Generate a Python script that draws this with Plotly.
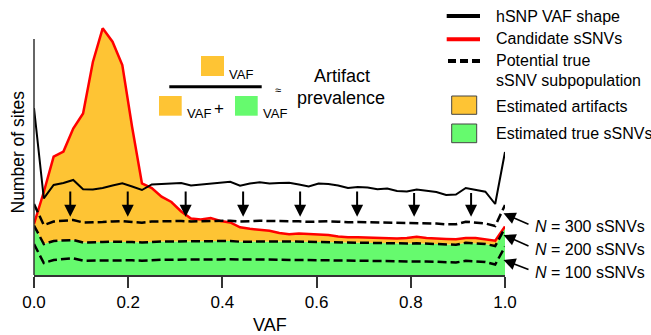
import plotly.graph_objects as go

# ---------------- data ----------------
vaf = [0.0, 0.0208, 0.0417, 0.0625, 0.0833, 0.1042, 0.125, 0.1458, 0.1667, 0.1875,
       0.2083, 0.2292, 0.25, 0.2708, 0.2917, 0.3125, 0.3333, 0.3542, 0.375, 0.3958,
       0.4167, 0.4375, 0.4583, 0.4792, 0.5, 0.5208, 0.5417, 0.5625, 0.5833, 0.6042,
       0.625, 0.6458, 0.6667, 0.6875, 0.7083, 0.7292, 0.75, 0.7708, 0.7917, 0.8125,
       0.8333, 0.8542, 0.875, 0.8958, 0.9167, 0.9375, 0.9583, 0.9792, 1.0]

hsnp_shape = [167, 76.7, 90, 92, 95, 85.7, 85.5, 87, 89.5, 91.7,
              88.5, 85, 90.5, 91, 91.5, 92, 89.5, 90.5, 91.5, 92.5,
              93.3, 89.3, 91.5, 92.7, 91.5, 92, 92.3, 90.5, 88.5, 91.5,
              91, 89.5, 87, 88, 87.5, 85.7, 86.5, 84, 83.5, 85.5,
              84.5, 83, 80, 80.5, 87, 85.5, 83.3, 71, 123]

candidate = [51, 83, 118.3, 123.5, 146.5, 161.5, 213, 246.7, 233.3, 210,
             148, 91.5, 87, 78.3, 73, 63.5, 56.5, 55.5, 57, 54,
             52.5, 47.7, 46.2, 45, 44.3, 42, 40.7, 41.5, 41, 40.7,
             40, 38.5, 37.7, 37.7, 37.3, 37, 36.7, 36.5, 37, 38.3,
             37, 36.3, 36, 35.7, 37, 37, 36, 34.3, 48.5]

true_n300 = [71, 50, 53.5, 54.5, 55, 52.5, 52.5, 53, 53.5, 54,
             53, 52.3, 53.5, 53.7, 54, 54, 53.5, 53.7, 54, 54.2,
             54.3, 53.5, 54, 54.2, 54, 54, 54, 53.7, 53.2, 53.7,
             53.7, 53.3, 52.7, 53, 52.8, 52.5, 52.5, 52, 52, 52.2,
             52, 51.5, 50.7, 50.7, 53.3, 52.5, 51.5, 49, 70]

true_n200 = [49.5, 31, 34, 34.5, 35, 32.5, 32.5, 33, 33.3, 33.5,
             33, 32.5, 33.3, 33.5, 33.5, 33.7, 33.3, 33.5, 33.7, 33.8,
             34, 33.3, 33.5, 33.7, 33.5, 33.5, 33.5, 33.3, 33, 33.3,
             33.3, 33, 32.5, 32.7, 32.5, 32.3, 32, 31.5, 31.5, 31.7,
             31.3, 31, 30, 30.2, 32.3, 31.7, 31, 29, 47]

true_n100 = [31, 12, 15, 16, 16.7, 14.3, 14.5, 14.7, 15, 15,
             14.7, 14.3, 15, 15.2, 15.3, 15.5, 15.2, 15.3, 15.5, 15.6,
             15.7, 15.2, 15.4, 15.5, 15.4, 15.5, 15.5, 15.3, 15, 15.3,
             15.2, 15, 14.7, 14.8, 14.6, 14.4, 14.2, 13.8, 13.6, 13.8,
             13.5, 13.2, 12.5, 12.5, 14.2, 13.5, 13, 10.5, 28.3]

arrow_vaf = [0.077, 0.199, 0.322, 0.444, 0.565, 0.686, 0.807, 0.928]
arrow_tail = [85, 85, 85, 85, 85, 85, 83.5, 83.5]
arrow_tip = [58.3, 58.3, 58.3, 58.3, 58.3, 58.3, 58.3, 58.3]

n_labels = ["300", "200", "100"]

tick_vals = [0.0, 0.2, 0.4, 0.6, 0.8, 1.0]
tick_text = ["0.0", "0.2", "0.4", "0.6", "0.8", "1.0"]

legend_labels = ["hSNP VAF shape", "Candidate sSNVs", "Potential true", "sSNV subpopulation",
                 "Estimated artifacts", "Estimated true sSNVs"]

# ---------------- style ----------------
FONT = "Liberation Sans, Arial, Helvetica, sans-serif"
ORANGE = "#FEC434"
GREEN = "#66FA6E"
RED = "#FF0000"
AXC = "#333333"

W, H = 651, 335
L, R, T, B = 34, 146, 20, 60
PW, PH = W - L - R, H - T - B


def px(xp):
    return (xp - L) / PW


def py(yp):
    return (H - B - yp) / PH


fig = go.Figure()

fig.add_trace(go.Scatter(x=vaf, y=true_n200, mode="lines", line=dict(width=0),
                         fill="tozeroy", fillcolor=GREEN, hoverinfo="skip", showlegend=False))
fig.add_trace(go.Scatter(x=vaf, y=candidate, mode="lines", line=dict(color=RED, width=2.5),
                         fill="tonexty", fillcolor=ORANGE, showlegend=False))
for ys in (true_n300, true_n200, true_n100):
    fig.add_trace(go.Scatter(x=vaf, y=ys, mode="lines",
                             line=dict(color="black", width=2.5, dash="9px,4px"),
                             showlegend=False))
fig.add_trace(go.Scatter(x=vaf, y=hsnp_shape, mode="lines",
                         line=dict(color="black", width=2), showlegend=False))

shapes = []
annotations = []

# y axis line (shorter than the plot area, like the reference)
shapes.append(dict(type="line", xref="paper", yref="paper", x0=0, x1=0, y0=0, y1=py(39),
                   line=dict(color=AXC, width=1.5)))

# vertical arrows hSNP -> potential true subpopulation
for xa, yt, yh in zip(arrow_vaf, arrow_tail, arrow_tip):
    annotations.append(dict(x=xa, y=yh, ax=xa, ay=yt, xref="x", yref="y", axref="x", ayref="y",
                            text="", showarrow=True, arrowhead=2, arrowsize=1.2, arrowwidth=2,
                            arrowcolor="black", standoff=0))

# N = ... labels with arrows
label_y = [226.7, 249, 272.7]
tip_y = [213.3, 235, 260]
tail_y = [225, 246.7, 270]
for lab, ly, ty, tl in zip(n_labels, label_y, tip_y, tail_y):
    annotations.append(dict(x=px(533), y=py(ly), xref="paper", yref="paper",
                            text="<i>N</i> = " + lab + " sSNVs", showarrow=False,
                            xanchor="left", yanchor="middle",
                            font=dict(family=FONT, size=16, color="black")))
    annotations.append(dict(x=px(503.5), y=py(ty), xref="paper", yref="paper",
                            ax=530 - 503.5, ay=tl - ty, text="", showarrow=True,
                            arrowhead=2, arrowsize=1.5, arrowwidth=1.6, arrowcolor="black",
                            standoff=0))

# legend (manual)
shapes.append(dict(type="line", xref="paper", yref="paper", x0=px(446.7), x1=px(480),
                   y0=py(16), y1=py(16), line=dict(color="black", width=4)))
shapes.append(dict(type="line", xref="paper", yref="paper", x0=px(446.7), x1=px(480),
                   y0=py(39.3), y1=py(39.3), line=dict(color=RED, width=4)))
shapes.append(dict(type="line", xref="paper", yref="paper", x0=px(448), x1=px(480),
                   y0=py(61), y1=py(61), line=dict(color="black", width=4, dash="8px,4px")))
shapes.append(dict(type="rect", xref="paper", yref="paper", x0=px(451.7), x1=px(476.7),
                   y0=py(114.3), y1=py(96), fillcolor=ORANGE, line=dict(color="#444444", width=1)))
shapes.append(dict(type="rect", xref="paper", yref="paper", x0=px(451.7), x1=px(476.7),
                   y0=py(142.7), y1=py(124), fillcolor=GREEN, line=dict(color="#444444", width=1)))
legend_y = [16, 39, 61, 80, 106, 133.3]
for lab, ly in zip(legend_labels, legend_y):
    annotations.append(dict(x=px(494), y=py(ly), xref="paper", yref="paper", text=lab,
                            showarrow=False, xanchor="left", yanchor="middle",
                            font=dict(family=FONT, size=16, color="black")))

# formula
shapes.append(dict(type="rect", xref="paper", yref="paper", x0=px(201), x1=px(224),
                   y0=py(76), y1=py(56), fillcolor=ORANGE, line=dict(width=0)))
shapes.append(dict(type="line", xref="paper", yref="paper", x0=px(169.3), x1=px(261.7),
                   y0=py(86.7), y1=py(86.7), line=dict(color="black", width=3)))
shapes.append(dict(type="rect", xref="paper", yref="paper", x0=px(159), x1=px(181.7),
                   y0=py(115.7), y1=py(96), fillcolor=ORANGE, line=dict(width=0)))
shapes.append(dict(type="rect", xref="paper", yref="paper", x0=px(235), x1=px(257.7),
                   y0=py(115.7), y1=py(96), fillcolor=GREEN, line=dict(width=0)))
for xl, yl in ((227, 74), (184.5, 113.5), (260.5, 113.5)):
    annotations.append(dict(x=px(xl), y=py(yl), xref="paper", yref="paper", text="VAF",
                            showarrow=False, xanchor="left", yanchor="middle",
                            font=dict(family=FONT, size=13, color="black")))
annotations.append(dict(x=px(219.3), y=py(108), xref="paper", yref="paper", text="+",
                        showarrow=False, xanchor="center", yanchor="middle",
                        font=dict(family=FONT, size=17, color="black")))
annotations.append(dict(x=px(277.7), y=py(89.5), xref="paper", yref="paper", text="≈",
                        showarrow=False, xanchor="center", yanchor="middle",
                        font=dict(family=FONT, size=11, color="black")))
annotations.append(dict(x=px(341.5), y=py(76), xref="paper", yref="paper", text="Artifact",
                        showarrow=False, xanchor="center", yanchor="middle",
                        font=dict(family=FONT, size=18, color="black")))
annotations.append(dict(x=px(341), y=py(97.5), xref="paper", yref="paper", text="prevalence",
                        showarrow=False, xanchor="center", yanchor="middle",
                        font=dict(family=FONT, size=18, color="black")))

# axis titles
annotations.append(dict(x=px(18), y=py(152.5), xref="paper", yref="paper", text="Number of sites",
                        textangle=-90, showarrow=False, xanchor="center", yanchor="middle",
                        font=dict(family=FONT, size=17.5, color="black")))
annotations.append(dict(x=px(269.5), y=py(325), xref="paper", yref="paper", text="VAF",
                        showarrow=False, xanchor="center", yanchor="middle",
                        font=dict(family=FONT, size=18, color="black")))

fig.update_layout(
    width=W, height=H,
    margin=dict(l=L, r=R, t=T, b=B, pad=0),
    paper_bgcolor="white", plot_bgcolor="white",
    showlegend=False,
    font=dict(family=FONT, color="black"),
    shapes=shapes, annotations=annotations,
    xaxis=dict(range=[0, 1], showgrid=False, zeroline=False, showline=True,
               linecolor=AXC, linewidth=1.5, ticks="outside", ticklen=11, tickwidth=1.5,
               tickcolor=AXC, tickvals=tick_vals, ticktext=tick_text,
               tickfont=dict(family=FONT, size=17, color="black"), automargin=False),
    yaxis=dict(range=[0, PH], showgrid=False, zeroline=False, showline=False,
               showticklabels=False, ticks="", automargin=False),
)

fig.write_html("out.html", config={"displayModeBar": False},
               post_script="document.body.style.margin='0';document.body.style.padding='0';"
                           "document.body.style.overflow='hidden';")
